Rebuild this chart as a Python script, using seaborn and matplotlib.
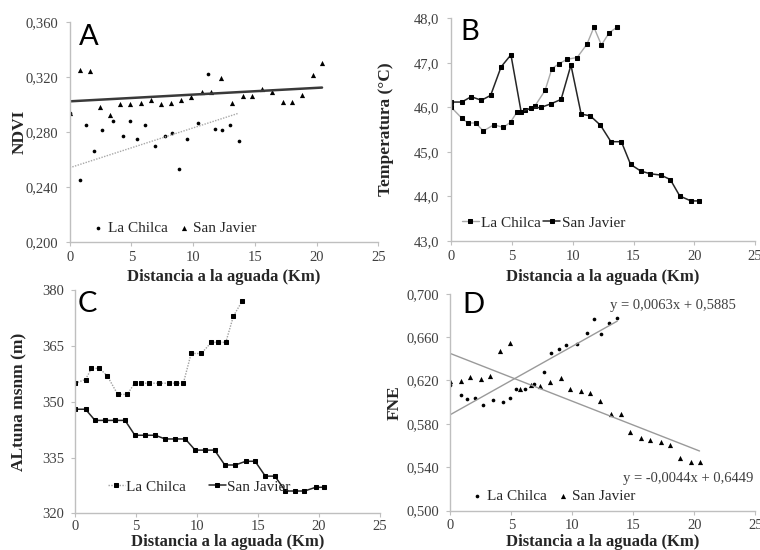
import numpy as np
import pandas as pd
import matplotlib
matplotlib.use("Agg")
import matplotlib.pyplot as plt
import seaborn as sns
from matplotlib.ticker import FuncFormatter

# ---------------- data ----------------
series_names = ["La Chilca", "San Javier"]
dist_chilca = [0, 0.86, 1.35, 2.0, 2.64, 3.5, 4.29, 4.88, 5.42, 6.1, 6.88, 7.72,
               8.28, 8.88, 9.52, 10.36, 11.17, 11.74, 12.36, 12.98, 13.68]
dist_javier = [0, 0.86, 1.64, 2.48, 3.24, 4.1, 4.91, 5.75, 6.58, 7.39, 8.2, 9.04,
               9.85, 10.69, 11.44, 12.28, 13.14, 14.0, 14.76, 15.6, 16.38, 17.25,
               18.03, 18.81, 19.73, 20.43]

ndvi_chilca = [0.2938, 0.2451, 0.2851, 0.266, 0.281, 0.288, 0.2771, 0.288, 0.2749,
               0.2851, 0.2698, 0.2771, 0.279, 0.2531, 0.2749, 0.2861, 0.3222, 0.2822,
               0.281, 0.2851, 0.2732]
ndvi_javier = [0.2938, 0.3249, 0.3239, 0.298, 0.2921, 0.2999, 0.2999, 0.3009, 0.3028,
               0.2999, 0.3009, 0.3028, 0.305, 0.3089, 0.3089, 0.3188, 0.3009, 0.306,
               0.306, 0.3111, 0.3089, 0.3018, 0.3018, 0.3069, 0.321, 0.330]

temp_chilca = [46.0, 45.76, 45.65, 45.65, 45.47, 45.61, 45.55, 45.67, 45.9, 45.94,
               46.03, 46.38, 46.87, 46.98, 47.08, 47.12, 47.42, 47.8, 47.4, 47.67, 47.81]
temp_javier = [46.12, 46.12, 46.24, 46.16, 46.27, 46.91, 47.18, 45.9, 45.98, 46.0,
               46.08, 46.18, 46.95, 45.85, 45.81, 45.6, 45.23, 45.23, 44.72, 44.57,
               44.51, 44.48, 44.38, 44.01, 43.9, 43.9]

alt_chilca = [355, 356, 359, 359, 357, 352, 352, 355, 355, 355, 355, 355, 355, 355,
              363, 363, 366, 366, 366, 373, 377]
alt_javier = [348, 348, 345, 345, 345, 345, 341, 341, 341, 340, 340, 340, 337, 337,
              337, 333, 333, 334, 334, 330, 330, 326, 326, 326, 327, 327]

fne_chilca = [0.6155, 0.6068, 0.6028, 0.604, 0.5976, 0.6016, 0.5998, 0.604, 0.6118,
              0.6124, 0.617, 0.6278, 0.645, 0.6487, 0.653, 0.6539, 0.664, 0.6769,
              0.6625, 0.673, 0.6779]
fne_javier = [0.6194, 0.6194, 0.6234, 0.621, 0.6243, 0.6468, 0.6545, 0.6118, 0.6155,
              0.6151, 0.6183, 0.6219, 0.6124, 0.6102, 0.6087, 0.6013, 0.5893, 0.5893,
              0.5721, 0.5671, 0.5653, 0.5629, 0.5601, 0.549, 0.545, 0.545]

# linear trend coefficients (slope, intercept)
ndvi_trend_chilca = [0.0029, 0.2538]
ndvi_trend_javier = [0.00049, 0.3021]
fne_trend_chilca = [0.0063, 0.5885]
fne_trend_javier = [-0.0044, 0.6449]
fne_eq_labels = ["y = 0,0063x + 0,5885", "y = -0,0044x + 0,6449"]

x_label = "Distancia a la aguada (Km)"
y_labels = ["NDVI", "Temperatura (°C)", "ALtuna msnm (m)", "FNE"]
panel_letters = ["A", "B", "C", "D"]
x_ticks = [0, 5, 10, 15, 20, 25]
ndvi_ticks = [0.200, 0.240, 0.280, 0.320, 0.360]
temp_ticks = [43.0, 44.0, 45.0, 46.0, 47.0, 48.0]
alt_ticks = [320, 335, 350, 365, 380]
fne_ticks = [0.500, 0.540, 0.580, 0.620, 0.660, 0.700]

# ---------------- style ----------------
sns.set_style("white")
SERIF = ["Liberation Serif", "DejaVu Serif"]
plt.rcParams["font.family"] = SERIF

SPINE = "#bfbfbf"
TICKC = "#404040"

fig = plt.figure(figsize=(7.6, 5.5), dpi=100)
axA = fig.add_axes([0.0917, 0.5605, 0.4063, 0.400])
axB = fig.add_axes([0.5938, 0.5618, 0.3996, 0.4049])
axC = fig.add_axes([0.0987, 0.0667, 0.4013, 0.4055])
axD = fig.add_axes([0.5925, 0.0715, 0.4013, 0.3945])


def comma_fmt(dec):
    return FuncFormatter(lambda v, _: f"{v:.{dec}f}".replace(".", ","))


def trend_df(xs, coef):
    xr = np.array([min(xs), max(xs)])
    return pd.DataFrame({"x": xr, "y": coef[0] * xr + coef[1]})


def style_axes(ax, yticks, fmt, ylabel, ylab_x, xlab_y, letter, letter_xy,
               xpad, ypad):
    ax.set_xlim(0, 25)
    ax.set_ylim(yticks[0], yticks[-1])
    ax.set_xticks(x_ticks)
    ax.set_yticks(yticks)
    if fmt is not None:
        ax.yaxis.set_major_formatter(fmt)
    for s in ["top", "right"]:
        ax.spines[s].set_visible(False)
    for s in ["left", "bottom"]:
        ax.spines[s].set_color(SPINE)
        ax.spines[s].set_linewidth(1.0)
    ax.tick_params(axis="x", direction="out", length=3, width=0.8, color=SPINE,
                   labelsize=10.5, labelcolor=TICKC, pad=xpad, bottom=True,
                   labelfontfamily=SERIF)
    ax.tick_params(axis="y", direction="out", length=3, width=0.8, color=SPINE,
                   labelsize=10.5, labelcolor=TICKC, pad=ypad, left=True,
                   labelfontfamily=SERIF)
    ax.set_xlabel(x_label, fontsize=12, fontweight="bold", family=SERIF)
    ax.set_ylabel(ylabel, fontsize=12.5, fontweight="bold", family=SERIF)
    ax.xaxis.set_label_coords(0.5, xlab_y)
    ax.yaxis.set_label_coords(ylab_x, 0.5)
    ax.text(letter_xy[0], letter_xy[1], letter, transform=ax.transAxes,
            fontsize=21, family=["Lato", "DejaVu Sans"], color="black",
            ha="left", va="baseline")


# ---------------- panel A ----------------
dfa_c = pd.DataFrame({"x": dist_chilca, "y": ndvi_chilca})
dfa_j = pd.DataFrame({"x": dist_javier, "y": ndvi_javier})
sns.lineplot(data=trend_df(dist_javier, ndvi_trend_javier), x="x", y="y", ax=axA,
             color="#3a3a3a", lw=1.8, legend=False)
sns.lineplot(data=trend_df(dist_chilca, ndvi_trend_chilca), x="x", y="y", ax=axA,
             color="#a8a8a8", lw=1.0, linestyle=(0, (1, 1)), legend=False)
sns.scatterplot(data=dfa_c, x="x", y="y", ax=axA, marker="o", s=7, color="black",
                linewidth=0, label=series_names[0])
sns.scatterplot(data=dfa_j, x="x", y="y", ax=axA, marker="^", s=14, color="black",
                linewidth=0, label=series_names[1])
style_axes(axA, ndvi_ticks, comma_fmt(3), y_labels[0], -0.137, -0.124,
           panel_letters[0], (0.03, 0.894), 3.5, 5)
hA, lA = axA.get_legend_handles_labels()
axA.legend(hA[-2:], lA[-2:], ncol=2, frameon=False, loc="center left",
           bbox_to_anchor=(0.078, 0.062), handlelength=0.6,
           handletextpad=0.3, columnspacing=0.8, borderpad=0, borderaxespad=0,
           prop={"family": SERIF, "size": 11})

# ---------------- panel B ----------------
dfb_c = pd.DataFrame({"x": dist_chilca, "y": temp_chilca})
dfb_j = pd.DataFrame({"x": dist_javier, "y": temp_javier})
sns.lineplot(data=dfb_c, x="x", y="y", ax=axB, sort=False, color="#a8a8a8", lw=1.0,
             marker="s", markersize=2.6, markerfacecolor="black",
             markeredgecolor="black", label=series_names[0])
sns.lineplot(data=dfb_j, x="x", y="y", ax=axB, sort=False, color="#262626", lw=1.1,
             marker="s", markersize=2.6, markerfacecolor="black",
             markeredgecolor="black", label=series_names[1])
style_axes(axB, temp_ticks, comma_fmt(1), y_labels[1], -0.19, -0.126,
           panel_letters[1], (0.029, 0.9025), 3.5, 5.5)
axB.legend(ncol=2, frameon=False, loc="center left", bbox_to_anchor=(0.035, 0.081),
           handlelength=1.1, handletextpad=0.15, columnspacing=0.15, borderpad=0,
           borderaxespad=0, prop={"family": SERIF, "size": 11})

# ---------------- panel C ----------------
dfc_c = pd.DataFrame({"x": dist_chilca, "y": alt_chilca})
dfc_j = pd.DataFrame({"x": dist_javier, "y": alt_javier})
sns.lineplot(data=dfc_c, x="x", y="y", ax=axC, sort=False, color="#a0a0a0", lw=1.0,
             linestyle=(0, (1, 1)), marker="s", markersize=2.6,
             markerfacecolor="black", markeredgecolor="black", label=series_names[0])
sns.lineplot(data=dfc_j, x="x", y="y", ax=axC, sort=False, color="#262626", lw=1.1,
             marker="s", markersize=2.6, markerfacecolor="black",
             markeredgecolor="black", label=series_names[1])
style_axes(axC, alt_ticks, None, y_labels[2], -0.156, -0.093,
           panel_letters[2], (0.01, 0.903), 1.5, 4.5)
axC.legend(ncol=2, frameon=False, loc="center left", bbox_to_anchor=(0.108, 0.118),
           handlelength=1.1, handletextpad=0.1, columnspacing=1.5, borderpad=0,
           borderaxespad=0, prop={"family": SERIF, "size": 11})

# ---------------- panel D ----------------
dfd_c = pd.DataFrame({"x": dist_chilca, "y": fne_chilca})
dfd_j = pd.DataFrame({"x": dist_javier, "y": fne_javier})
sns.lineplot(data=trend_df(dist_chilca, fne_trend_chilca), x="x", y="y", ax=axD,
             color="#9a9a9a", lw=1.0, legend=False)
sns.lineplot(data=trend_df(dist_javier, fne_trend_javier), x="x", y="y", ax=axD,
             color="#9a9a9a", lw=1.0, legend=False)
sns.scatterplot(data=dfd_c, x="x", y="y", ax=axD, marker="o", s=7, color="black",
                linewidth=0, label=series_names[0])
sns.scatterplot(data=dfd_j, x="x", y="y", ax=axD, marker="^", s=14, color="black",
                linewidth=0, label=series_names[1])
style_axes(axD, fne_ticks, comma_fmt(3), y_labels[3], -0.157, -0.107,
           panel_letters[3], (0.038, 0.911), 3, 5)
axD.text(13.1, 0.6887, fne_eq_labels[0], fontsize=10.5, family=SERIF,
         color="#404040", ha="left", va="center")
axD.text(14.15, 0.530, fne_eq_labels[1], fontsize=10.5, family=SERIF,
         color="#404040", ha="left", va="center")
hD, lD = axD.get_legend_handles_labels()
axD.legend(hD[-2:], lD[-2:], ncol=2, frameon=False, loc="center left",
           bbox_to_anchor=(0.074, 0.068), handlelength=0.6, handletextpad=0.3,
           columnspacing=0.8, borderpad=0, borderaxespad=0,
           prop={"family": SERIF, "size": 11})

fig.savefig("out.png", dpi=100)
